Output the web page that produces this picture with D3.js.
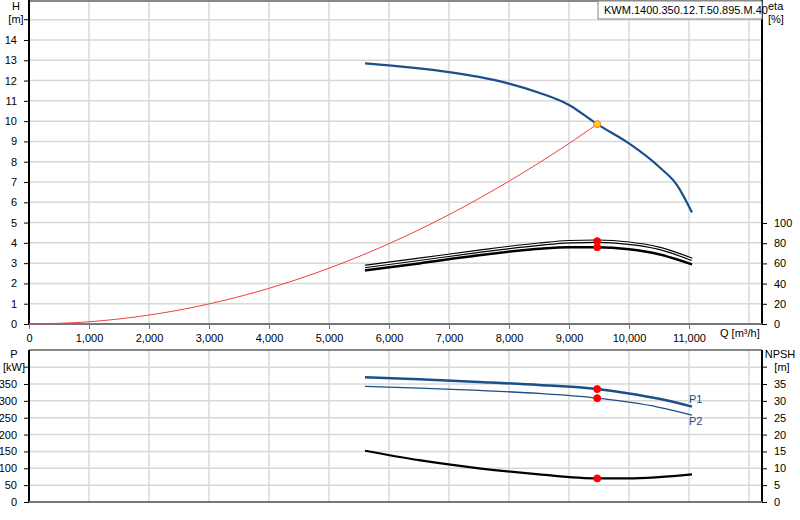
<!DOCTYPE html><html><head><meta charset="utf-8"><script src="https://cdn.jsdelivr.net/npm/d3@7"></script>
<style>body{margin:0;background:#fff}text{font-family:Arial,"Liberation Sans",sans-serif;font-size:11px;fill:#000}</style></head><body><svg id="c" width="800" height="520"></svg><script>
const qH=[5600,6000,6500,7000,7500,8000,8500,9000,9470,10000,10500,10800,11050];
const H=[12.85,12.75,12.6,12.42,12.18,11.85,11.4,10.8,9.85,8.9,7.75,6.85,5.5];
const qSys=[0,1000,2000,3000,4000,5000,6000,7000,8000,9000,9470];
const hSys=[0,0.11,0.44,0.99,1.76,2.75,3.96,5.39,7.04,8.9,9.85];
const qEta=[5600,6500,7500,8500,9000,9470,10000,10500,11050];
const eta1=[57,64,72,79,81.5,82,80,75,64];
const eta2=[53,60,68,74.5,76,76,74,69,59];
const qP=[5600,6500,7500,8500,9470,10000,10500,11050];
const P1=[370,364,356,347,335,322,306,283];
const P2=[343,338,331,322,308,296,281,258];
const NPSH=[15.2,12.4,10,8.2,7,7,7.4,8.2];
const opQ=9470,opH=9.85,opE1=82,opE2=76,opP1=335,opP2=308,opN=7;
const xTicks=[0,1000,2000,3000,4000,5000,6000,7000,8000,9000,10000,11000];
const svg=d3.select("#c");
const x=d3.scaleLinear().domain([0,12000]).range([29,749]);
const L=29,R=762;
const yH=d3.scaleLinear().domain([0,14]).range([324,40]);
const yE=d3.scaleLinear().domain([0,100]).range([324,223]);
const yP=d3.scaleLinear().domain([0,350]).range([502,384]);
const yN=d3.scaleLinear().domain([0,35]).range([502,384]);
const grid="#d8d8d8";
function panel(top,bot,yGrid,gridVals){
  const g=svg.append("g");
  xTicks.concat([12000]).forEach(v=>{if(v>0)g.append("line").attr("x1",x(v)).attr("x2",x(v)).attr("y1",top).attr("y2",bot).attr("stroke",grid).attr("stroke-width",1.5);});
  gridVals.forEach(v=>g.append("line").attr("x1",L).attr("x2",R).attr("y1",yGrid(v)).attr("y2",yGrid(v)).attr("stroke",grid).attr("stroke-width",1.5));
  g.append("line").attr("x1",L).attr("x2",R).attr("y1",top).attr("y2",top).attr("stroke","#888").attr("stroke-width",2);
}
panel(1,324,yH,d3.range(1,16));
panel(350,502,yP,d3.range(50,401,50));
// top axes
svg.append("g").attr("transform","translate(29,0)").call(d3.axisLeft(yH).tickValues(d3.range(0,15)).tickSize(5).tickSizeOuter(0)).call(a=>{a.select(".domain").attr("stroke","#000").attr("stroke-width",2).attr("d","M0,0V324");a.selectAll("text").attr("dx","-4")});
svg.append("g").attr("transform","translate(762,0)").call(d3.axisRight(yE).tickValues(d3.range(0,101,20)).tickSize(5).tickSizeOuter(0)).call(a=>{a.select(".domain").attr("d","M0,0V324").attr("stroke-width",2);a.selectAll("text").attr("dx","4")});
svg.append("g").attr("transform","translate(0,324)").call(d3.axisBottom(x).tickValues(xTicks).tickFormat(d3.format(",")).tickSize(5).tickSizeOuter(0)).call(a=>{a.select(".domain").attr("d","M29,0H762").attr("stroke","#777").attr("stroke-width",2);a.selectAll("line").attr("stroke","#777");a.selectAll("text").attr("dy","0.9em")});
// bottom axes
svg.append("g").attr("transform","translate(29,0)").call(d3.axisLeft(yP).tickValues(d3.range(0,351,50)).tickSize(5).tickSizeOuter(0)).call(a=>{a.select(".domain").attr("d","M0,350V502").attr("stroke-width",2);a.selectAll("text").attr("dx","-4")});
svg.append("g").attr("transform","translate(762,0)").call(d3.axisRight(yN).tickValues(d3.range(0,36,5)).tickSize(5).tickSizeOuter(0)).call(a=>{a.select(".domain").attr("d","M0,350V502").attr("stroke-width",2);a.selectAll("text").attr("dx","4")});
svg.append("line").attr("x1",29).attr("x2",762).attr("y1",502).attr("y2",502).attr("stroke","#777").attr("stroke-width",2);
[yP(400)].forEach(y=>{svg.append("line").attr("x1",24).attr("x2",29).attr("y1",y).attr("y2",y).attr("stroke","#000");svg.append("line").attr("x1",762).attr("x2",767).attr("y1",y).attr("y2",y).attr("stroke","#000");});
[yH(15)].forEach(y=>{svg.append("line").attr("x1",24).attr("x2",29).attr("y1",y).attr("y2",y).attr("stroke","#000");});
// labels
const t=(s,xx,yy,a="middle",c="#000")=>svg.append("text").attr("x",xx).attr("y",yy).attr("text-anchor",a).style("fill",c).text(s);
t("H",16,10);t("[m]",16,23);t("eta",768,10,"start");t("[%]",768,23,"start");
t("P",14,358);t("[kW]",14,371);t("NPSH",780,358);t("[m]",782,371);
t("Q [m³/h]",720,337,"start");
svg.append("rect").attr("x",598).attr("y",1).attr("width",164).attr("height",18).attr("fill","#fff").attr("stroke","#888");
t("KWM.1400.350.12.T.50.895.M.40",604,14,"start");
// curves
const line=(xs,ys,sy)=>d3.line().x((d,i)=>x(xs[i])).y((d,i)=>sy(ys[i])).curve(d3.curveMonotoneX)(ys);
const path=(d,c,w)=>svg.append("path").attr("d",d).attr("fill","none").attr("stroke",c).attr("stroke-width",w);
path(line(qSys,hSys,yH),"#f04040",1);
path(line(qH,H,yH),"#1a4f8a",2.2);
path(line(qEta,eta1,yE),"#000",3.5);path(line(qEta,eta1,yE),"#fff",1.2);
path(line(qEta,eta2,yE),"#000",2.5);
path(line(qP,P1,yP),"#1a4f8a",2.5);
path(line(qP,P2,yP),"#1a4f8a",1.3);
path(line(qP,NPSH,yN),"#000",2.2);
t("P1",689,403,"start","#1a4f8a");t("P2",689,425,"start","#1a4f8a");
const dot=(xx,yy,f,s)=>svg.append("circle").attr("cx",x(xx)).attr("cy",yy).attr("r",3.5).attr("fill",f).attr("stroke",s);
dot(opQ,yH(opH),"#ffd400","#f07070");dot(opQ,yE(opE1),"red","red");dot(opQ,yE(opE2),"red","red");
dot(opQ,yP(opP1),"red","red");dot(opQ,yP(opP2),"red","red");dot(opQ,yN(opN),"red","red");
</script></body></html>
